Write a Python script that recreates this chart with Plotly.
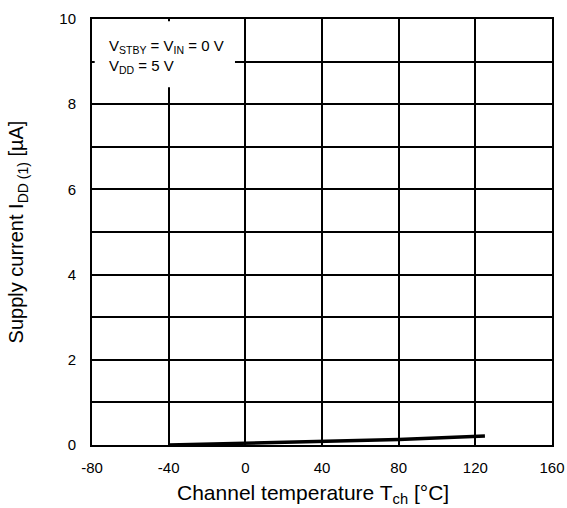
import plotly.graph_objects as go

temp_c = [-40, 0, 40, 80, 125]
idd_ua = [0.0, 0.04, 0.08, 0.13, 0.21]

x_ticks = [-80, -40, 0, 40, 80, 120, 160]
x_labels = ["-80", "-40", "0", "40", "80", "120", "160"]
y_ticks = [0, 1, 2, 3, 4, 5, 6, 7, 8, 9, 10]
y_labels = ["0", "", "2", "", "4", "", "6", "", "8", "", "10"]

fig = go.Figure()
fig.add_trace(go.Scatter(x=temp_c, y=idd_ua, mode="lines",
                         line=dict(color="black", width=3.5), showlegend=False))

font = dict(family="Liberation Sans, Arial, sans-serif", color="black")

fig.update_layout(
    width=567, height=508,
    margin=dict(l=92, r=15, t=19, b=63),
    paper_bgcolor="white", plot_bgcolor="white",
    font=dict(**font, size=15),
    xaxis=dict(range=[-80, 160], tickvals=x_ticks, ticktext=x_labels, showgrid=True,
               gridcolor="black", gridwidth=1.5, zeroline=False, showline=True,
               linecolor="black", linewidth=2, mirror=True, ticks="",
               ticklabelstandoff=8, automargin=False,
               tickfont=dict(**font, size=15)),
    yaxis=dict(range=[0, 10], tickvals=y_ticks, ticktext=y_labels, showgrid=True,
               gridcolor="black", gridwidth=1.5, zeroline=False, showline=True,
               linecolor="black", linewidth=2, mirror=True, ticks="",
               ticklabelstandoff=11, automargin=False, tickfont=dict(**font, size=15),
               title=dict(text="Supply current I<sub>DD (1)</sub> [µA]",
                          font=dict(**font, size=20), standoff=30)),
)

# x-axis title placed as text (slightly left of plot centre, as in the reference)
fig.add_annotation(xref="paper", yref="paper", x=0.48, y=-0.115, xanchor="center",
                   yanchor="middle", showarrow=False,
                   text="Channel temperature T<sub>ch</sub> [°C]",
                   font=dict(**font, size=21))

fig.add_shape(type="rect", xref="x", yref="y", x0=-78.6, x1=-5.4, y0=8.4, y1=9.95,
              fillcolor="white", line=dict(width=0), layer="above")
fig.add_annotation(xref="x", yref="y", x=-72.2, y=9.11, xanchor="left", yanchor="middle",
                   align="left", showarrow=False,
                   text="V<sub>STBY</sub> = V<sub>IN</sub> = 0 V<br>V<sub>DD</sub> = 5 V",
                   font=dict(**font, size=15))

fig.write_html("out.html")
